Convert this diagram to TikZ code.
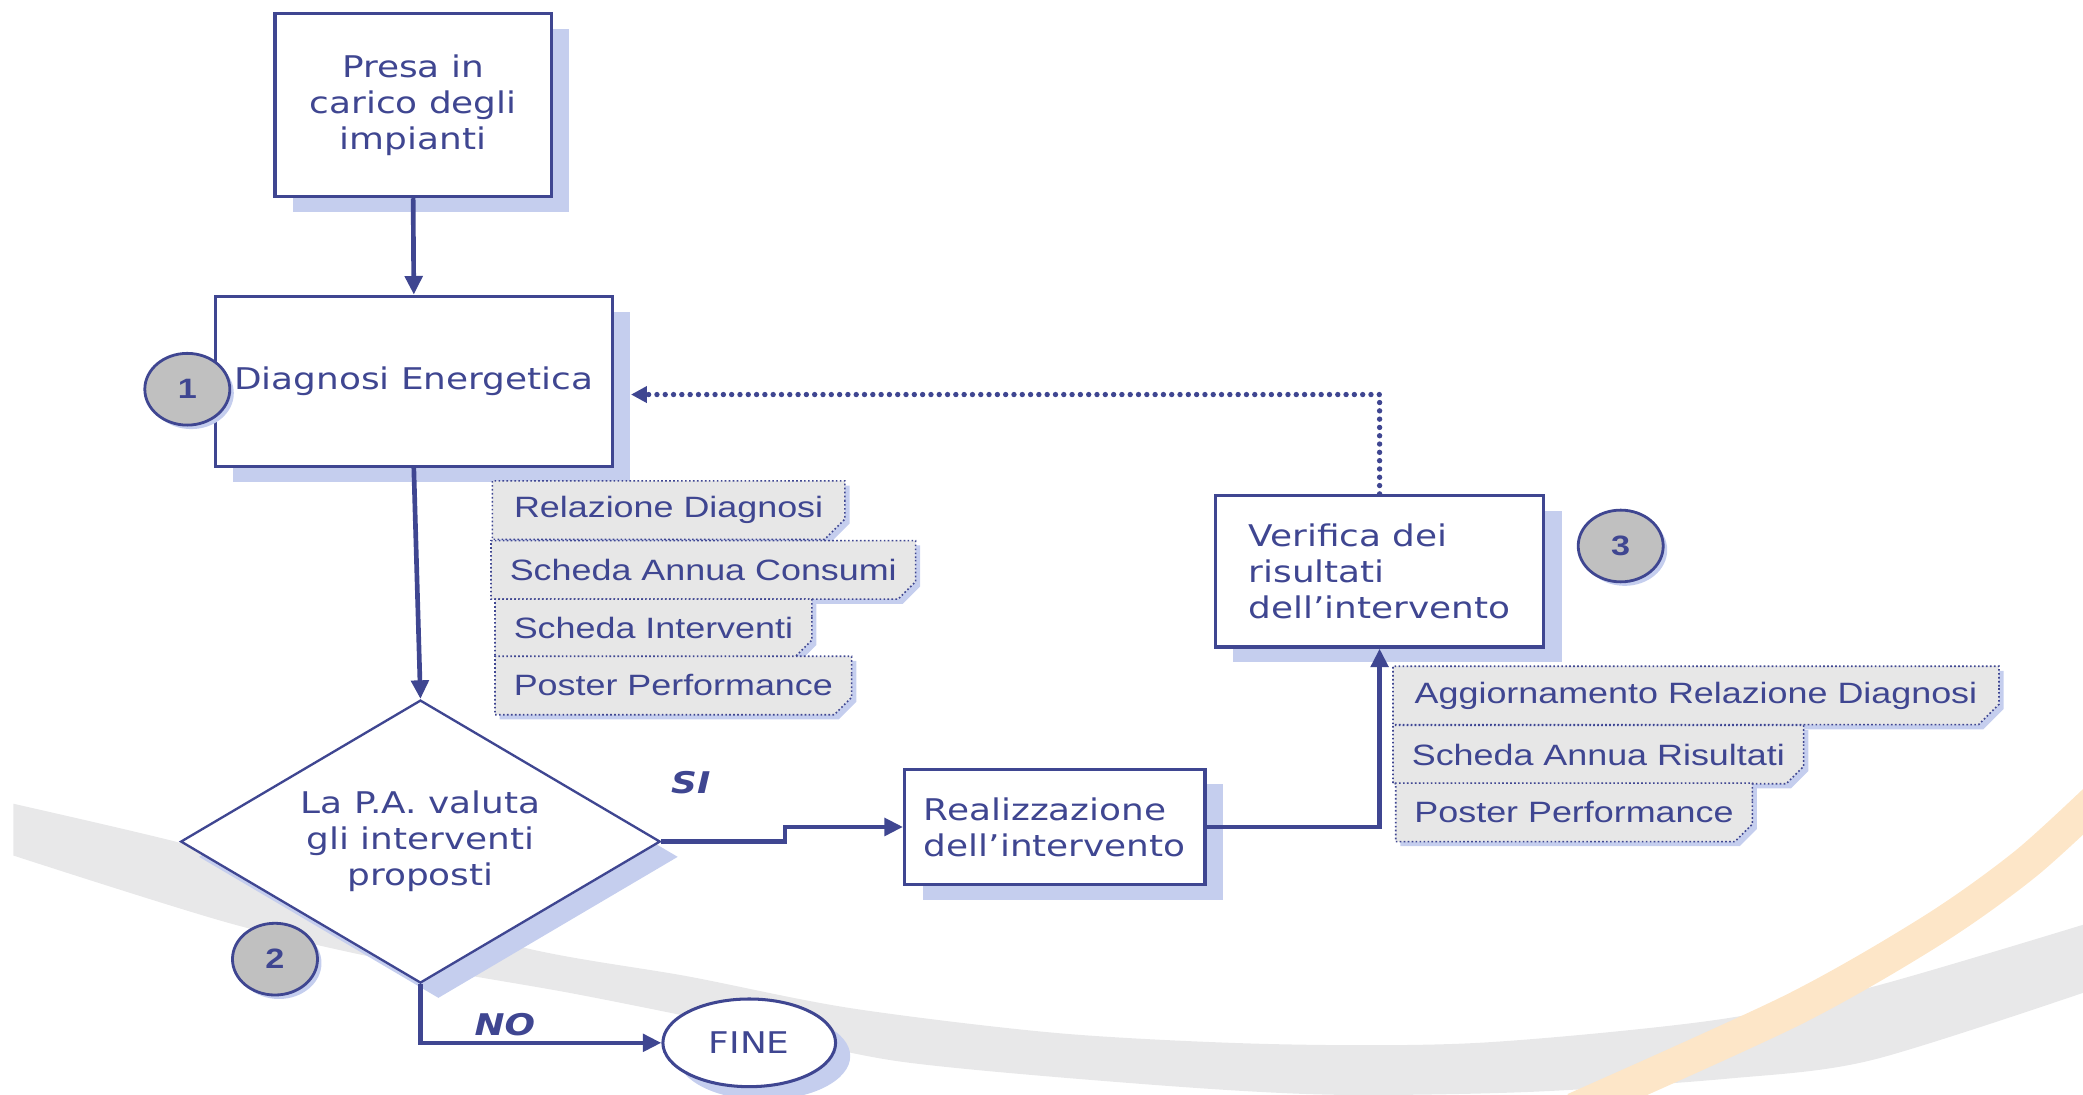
\documentclass[tikz,border=0pt]{standalone}
\usepackage{fontspec}
\setmainfont{DejaVu Sans}[FakeStretch=1.2]
\newfontfamily\tagfont{Liberation Sans}[FakeStretch=1.22]
\usetikzlibrary{shapes.geometric,shapes.misc,shadows,arrows.meta}

\definecolor{flowblue}{RGB}{63,70,145}
\definecolor{shadeblue}{RGB}{197,206,238}
\definecolor{tagfill}{RGB}{231,231,231}
\definecolor{markgray}{RGB}{192,192,192}
\definecolor{swoopgray}{RGB}{232,232,233}
\definecolor{swooporange}{RGB}{253,230,200}

\newcommand{\boxtext}{\fontsize{12.8}{15.4}\selectfont}
\newcommand{\tagtext}{\tagfont\fontsize{12.6}{14}\selectfont}

\tikzset{
  bigshadow/.style={general shadow={fill=shadeblue, shadow xshift=2.7mm, shadow yshift=-2.3mm}},
  flowbox/.style={rectangle, draw=flowblue, line width=1.4pt, fill=white, text=flowblue,
    font=\boxtext, inner sep=0pt, bigshadow},
  decision/.style={diamond, aspect=1.7, draw=flowblue, line width=1pt, fill=white, text=flowblue,
    font=\boxtext, align=center, inner sep=0pt, minimum width=72.2mm, minimum height=42.6mm, bigshadow},
  terminal/.style={ellipse, draw=flowblue, line width=1.3pt, fill=white, text=flowblue,
    font=\boxtext, inner sep=0pt, minimum width=26mm, minimum height=13.2mm,
    general shadow={fill=shadeblue, shadow xshift=2.2mm, shadow yshift=-2mm}},
  stepmark/.style={ellipse, draw=flowblue, line width=1.2pt, fill=markgray, text=flowblue,
    font={\tagfont\bfseries\fontsize{12}{12}\selectfont}, inner sep=0pt,
    minimum width=12.8mm, minimum height=10.8mm,
    general shadow={fill=shadeblue, shadow xshift=0.6mm, shadow yshift=-0.6mm}},
  doctag/.style={chamfered rectangle, chamfered rectangle corners=south east,
    chamfered rectangle xsep=6.4mm, chamfered rectangle ysep=1mm,
    draw=flowblue, densely dotted, line width=0.7pt, fill=tagfill, text=flowblue,
    font=\tagtext, anchor=west, inner xsep=1.2mm, inner ysep=0pt, minimum height=8.8mm,
    general shadow={fill=shadeblue, shadow xshift=0.7mm, shadow yshift=-0.7mm}},
  flowline/.style={draw=flowblue, line width=2pt, -{Triangle[length=2.8mm,width=2.6mm]}},
  backline/.style={draw=flowblue, line width=2.3pt, line cap=round, dash pattern=on 0pt off 1.25mm,
    -{Triangle[length=2.4mm,width=2.4mm]}},
  answer/.style={text=flowblue, font=\boxtext\bfseries\itshape, inner sep=0pt},
}

\begin{document}
\begin{tikzpicture}[x=0.2mm, y=-0.2mm]
\useasboundingbox (0,0) rectangle (1568,824);

% background swoops
\begin{scope}
\clip (0,0) rectangle (1568,824);
\fill[swoopgray] plot[smooth] coordinates {(10,605) (130,633) (242,664) (389,712) (518,735) (641,759)
    (800,778) (960,786) (1113,785) (1290,768) (1409,743) (1575,694)}
  -- plot[smooth] coordinates {(1575,745) (1409,798) (1300,812) (1150,822) (1000,824) (860,816)
    (677,799) (561,774) (432,748) (302,725) (173,695) (10,644)} -- cycle;
\draw[swooporange, line width=5mm] plot[smooth] coordinates {(1185,835) (1350,760) (1455,700) (1525,650) (1585,595)};
\end{scope}

% main steps
\node[flowbox, minimum width=41.6mm, minimum height=27.6mm, align=center] (presa) at (311,79)
  {Presa in\\carico degli\\impianti};
\node[flowbox, minimum width=59.8mm, minimum height=25.6mm] (diag) at (311.5,287) {Diagnosi Energetica};
\node[decision] (valuta) at (316.5,633.5) {La P.A. valuta\\gli interventi\\proposti};
\node[flowbox, minimum width=45.2mm, minimum height=17.4mm, align=left] (realiz) at (794,622.5)
  {Realizzazione\\dell’intervento};
\node[flowbox, minimum width=49.4mm, minimum height=22.8mm, align=left] (verif) at (1038.5,430)
  {Verifica dei\\risultati\\dell’intervento};
\node[terminal] (fine) at (564,785) {FINE};

% step numbers
\node[stepmark] (one) at (141,293) {1};
\node[stepmark] (two) at (207,722) {2};
\node[stepmark] (three) at (1220,411) {3};

% documents
\node[doctag] (reldiag) at (370,384) {Relazione Diagnosi};
\node[doctag] (consumi) at (369,429) {Scheda Annua Consumi};
\node[doctag] (interv) at (372,473) {Scheda Interventi};
\node[doctag] (posterA) at (372,516) {Poster Performance};
\node[doctag] (aggrel) at (1048,523.5) {Aggiornamento Relazione Diagnosi};
\node[doctag] (risult) at (1048,568) {Scheda Annua Risultati};
\node[doctag] (posterB) at (1050,611.5) {Poster Performance};

% connectors
\draw[flowline] (presa.south) -- (diag.north);
\draw[flowline] (diag.south) -- (valuta.north);
\draw[flowline] (valuta.east) -- ++(93,0) |- (realiz.west);
\draw[flowline] (realiz.east) -| (verif.south);
\draw[flowline] (valuta.south) |- (fine.west);
\coordinate (backend) at (475,297);
\draw[backline] (verif.north) |- (backend);

\node[answer] (si) at (520,589) {SI};
\node[answer] (no) at (380,771) {NO};
\end{tikzpicture}
\end{document}
